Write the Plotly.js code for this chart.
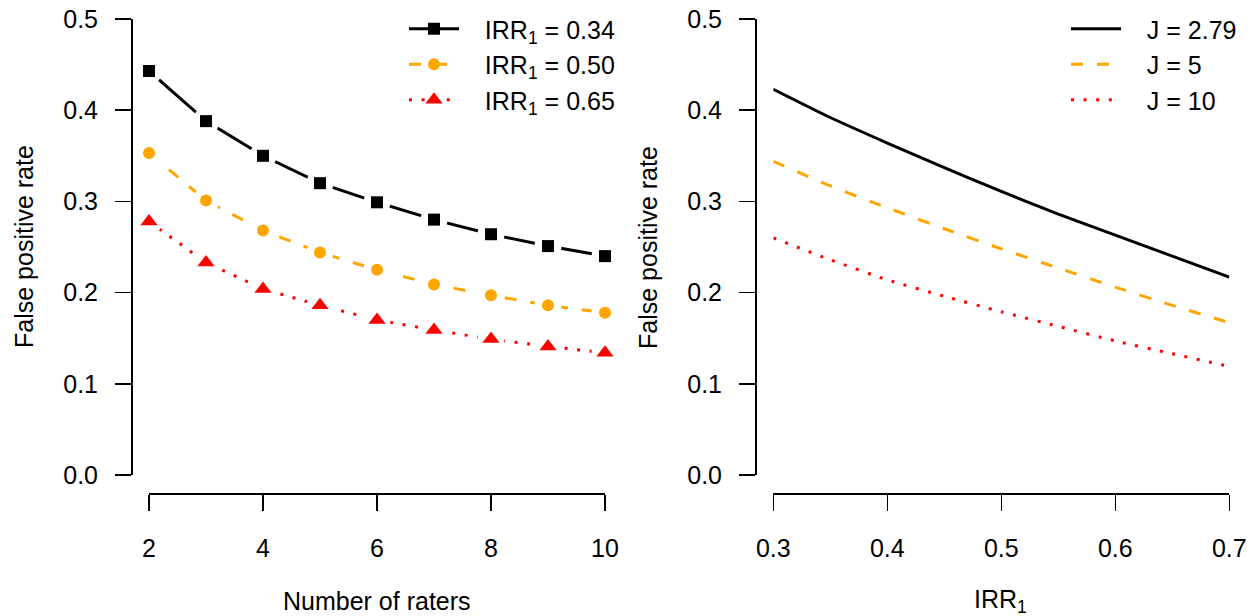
<!DOCTYPE html>
<html>
<head>
<meta charset="utf-8">
<script src="https://cdn.plot.ly/plotly-3.0.1.min.js"></script>
<style>
html,body{margin:0;padding:0;background:#fff;}
#chart{width:1260px;height:616px;}
</style>
</head>
<body>
<div id="chart"></div>
<script>
// ---- Data ----
const raters = [2, 3, 4, 5, 6, 7, 8, 9, 10];
const fprIRR034 = [0.443, 0.388, 0.350, 0.320, 0.299, 0.280, 0.264, 0.251, 0.240];
const fprIRR050 = [0.353, 0.301, 0.268, 0.244, 0.225, 0.209, 0.197, 0.186, 0.178];
const fprIRR065 = [0.278, 0.233, 0.204, 0.186, 0.170, 0.159, 0.149, 0.141, 0.134];

const irr1 = [0.30, 0.35, 0.40, 0.45, 0.50, 0.55, 0.60, 0.65, 0.70];
const fprJ279 = [0.423, 0.392, 0.364, 0.337, 0.311, 0.286, 0.263, 0.240, 0.217];
const fprJ5   = [0.344, 0.317, 0.293, 0.270, 0.248, 0.227, 0.206, 0.186, 0.167];
const fprJ10  = [0.260, 0.236, 0.214, 0.196, 0.179, 0.163, 0.147, 0.133, 0.119];

const leftNames = ['IRR<sub>1</sub> = 0.34', 'IRR<sub>1</sub> = 0.50', 'IRR<sub>1</sub> = 0.65'];
const rightNames = ['J = 2.79', 'J = 5', 'J = 10'];
const xTicksLeft = [2, 4, 6, 8, 10];
const xTicksRight = [0.3, 0.4, 0.5, 0.6, 0.7];
const yTicks = [0, 0.1, 0.2, 0.3, 0.4, 0.5];
const yTickText = ['0.0', '0.1', '0.2', '0.3', '0.4', '0.5'];

// ---- Styles ----
const FONT = 'Liberation Sans, Arial, Helvetica, sans-serif';
const FS = 25;
const colors = ['#000000', '#FFA500', '#FF0000'];
const dashes = ['solid', '12px,14px', '3px,9.6px'];
const symbols = ['square', 'circle', 'triangle-up'];
const msizes = [12, 12, 15];
const LW = 3;
const PAD = '\u00a0\u00a0\u00a0';

const W = 1260, H = 616;
const px = v => v / W;
const py = v => 1 - v / H;

const leftSeries = [fprIRR034, fprIRR050, fprIRR065];
const rightSeries = [fprJ279, fprJ5, fprJ10];

const traces = [];
// Left: legend-only entries (no data drawn)
leftSeries.forEach((ys, i) => {
  traces.push({
    x: [null], y: [null], xaxis: 'x', yaxis: 'y', type: 'scatter', mode: 'lines+markers',
    name: PAD + leftNames[i], legend: 'legend', showlegend: true,
    line: {color: colors[i], width: LW, dash: dashes[i]},
    marker: {symbol: symbols[i], size: msizes[i], color: colors[i]},
    hoverinfo: 'skip'
  });
});
// Left: lines, with white disc markers giving the gaps around points (R type = "b")
leftSeries.forEach((ys, i) => {
  traces.push({
    x: raters, y: ys, xaxis: 'x', yaxis: 'y', type: 'scatter', mode: 'lines+markers',
    showlegend: false, cliponaxis: false, hoverinfo: 'skip',
    line: {color: colors[i], width: LW, dash: dashes[i]},
    marker: {symbol: 'circle', size: 27, color: '#ffffff'}
  });
});
// Left: coloured points, on an overlay subplot drawn above
leftSeries.forEach((ys, i) => {
  traces.push({
    x: raters, y: ys, xaxis: 'x3', yaxis: 'y3', type: 'scatter', mode: 'markers',
    showlegend: false, cliponaxis: false, hoverinfo: 'x+y',
    marker: {symbol: symbols[i], size: msizes[i], color: colors[i]}
  });
});
// Right: curves
rightSeries.forEach((ys, i) => {
  traces.push({
    x: irr1, y: ys, xaxis: 'x2', yaxis: 'y2', type: 'scatter', mode: 'lines',
    name: PAD + rightNames[i], legend: 'legend2', cliponaxis: false,
    line: {color: colors[i], width: LW, dash: dashes[i], shape: 'spline', smoothing: 0.6}
  });
});

const axisCommon = {
  showgrid: false, zeroline: false, showline: true, linecolor: '#000', linewidth: 1.5,
  ticks: 'outside', ticklen: 16, tickwidth: 1.5, tickcolor: '#000',
  tickfont: {family: FONT, size: FS, color: '#000'}, anchor: 'free', fixedrange: true
};

const xPos = py(493);

const layout = {
  width: W, height: H,
  margin: {l: 0, r: 0, t: 0, b: 0, pad: 0},
  paper_bgcolor: '#fff', plot_bgcolor: '#fff',
  font: {family: FONT, size: FS, color: '#000'},
  showlegend: true,
  xaxis: Object.assign({}, axisCommon, {
    domain: [px(149), px(605)], range: [2, 10], autorange: false, tickvals: xTicksLeft,
    position: xPos, ticklabelstandoff: 16
  }),
  yaxis: Object.assign({}, axisCommon, {
    domain: [py(475), py(19)], range: [0, 0.5], autorange: false, tickvals: yTicks, ticktext: yTickText,
    position: px(131), ticklabelstandoff: 12
  }),
  xaxis3: {overlaying: 'x', range: [2, 10], autorange: false, visible: false, fixedrange: true},
  yaxis3: {overlaying: 'y', range: [0, 0.5], autorange: false, visible: false, fixedrange: true},
  xaxis2: Object.assign({}, axisCommon, {
    domain: [px(773.3), px(1229.3)], range: [0.3, 0.7], autorange: false, tickvals: xTicksRight,
    tickformat: '.1f', position: xPos, ticklabelstandoff: 16
  }),
  yaxis2: Object.assign({}, axisCommon, {
    domain: [py(475), py(19)], range: [0, 0.5], autorange: false, tickvals: yTicks, ticktext: yTickText,
    position: px(755), ticklabelstandoff: 12
  }),
  legend: {
    x: px(404), y: py(6), xanchor: 'left', yanchor: 'top',
    bgcolor: 'rgba(0,0,0,0)', borderwidth: 0, tracegroupgap: 0, itemwidth: 50,
    font: {family: FONT, size: FS, color: '#000'}
  },
  legend2: {
    x: px(1066), y: py(6), xanchor: 'left', yanchor: 'top',
    bgcolor: 'rgba(0,0,0,0)', borderwidth: 0, tracegroupgap: 0, itemwidth: 50,
    font: {family: FONT, size: FS, color: '#000'}
  },
  annotations: [
    {text: 'False positive rate', xref: 'paper', yref: 'paper', x: px(24), y: py(247),
     xanchor: 'center', yanchor: 'middle', textangle: -90, showarrow: false,
     font: {family: FONT, size: FS, color: '#000'}},
    {text: 'False positive rate', xref: 'paper', yref: 'paper', x: px(648), y: py(247),
     xanchor: 'center', yanchor: 'middle', textangle: -90, showarrow: false,
     font: {family: FONT, size: FS, color: '#000'}},
    {text: 'Number of raters', xref: 'paper', yref: 'paper', x: px(377), y: py(601),
     xanchor: 'center', yanchor: 'middle', showarrow: false,
     font: {family: FONT, size: FS, color: '#000'}},
    {text: 'IRR<sub>1</sub>', xref: 'paper', yref: 'paper', x: px(1001), y: py(601),
     xanchor: 'center', yanchor: 'middle', showarrow: false,
     font: {family: FONT, size: FS, color: '#000'}}
  ]
};

Plotly.newPlot('chart', traces, layout, {displayModeBar: false, staticPlot: true});
</script>
</body>
</html>
